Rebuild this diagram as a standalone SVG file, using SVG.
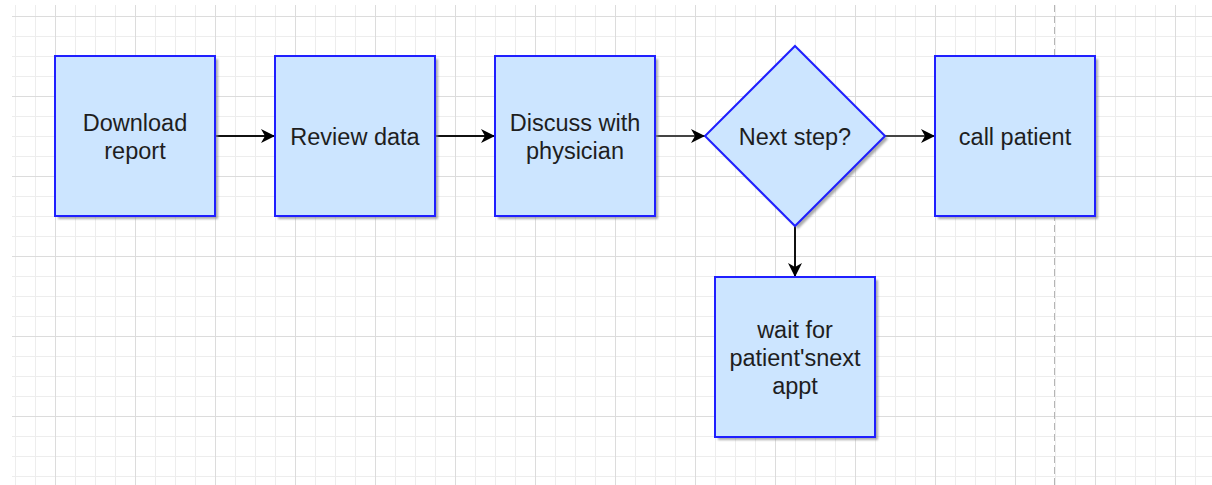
<svg xmlns="http://www.w3.org/2000/svg" width="1212" height="485" viewBox="0 0 1212 485">
<defs>
<pattern id="minor" x="15" y="16" width="20" height="20" patternUnits="userSpaceOnUse">
<path d="M0.5 0 V20 M0 0.5 H20" fill="none" stroke="#ededed" stroke-width="1"/>
</pattern>
<pattern id="major" x="55" y="16" width="80" height="80" patternUnits="userSpaceOnUse">
<path d="M0.5 0 V80 M0 0.5 H80" fill="none" stroke="#dcdcdc" stroke-width="1"/>
</pattern>
<marker id="arr" viewBox="0 0 14 14" refX="14" refY="7" markerWidth="14" markerHeight="14" markerUnits="userSpaceOnUse" orient="auto">
<path d="M0,0 L14,7 L0,14 L4,7 z" fill="#000"/>
</marker>
<filter id="sh" x="-10%" y="-10%" width="130%" height="130%">
<feGaussianBlur stdDeviation="0.8"/>
</filter>
</defs>
<style>
.box{fill:#cce5ff;stroke:#1f1fff;stroke-width:2}
.shadow{fill:#888888;opacity:0.7;filter:url(#sh)}
.t{font-family:"Liberation Sans",Arial,sans-serif;font-size:23.5px;fill:#1e1e1e;text-anchor:middle}
.c{fill:none;stroke:#111;stroke-width:2;marker-end:url(#arr)}
.c2{fill:none;stroke:#444;stroke-width:2;marker-end:url(#arr)}
</style>
<rect width="1212" height="485" fill="#ffffff"/>
<rect x="12" y="5" width="1200" height="480" fill="url(#minor)"/>
<rect x="12" y="5" width="1200" height="480" fill="url(#major)"/>
<line x1="1054.5" y1="5" x2="1054.5" y2="485" stroke="#b5b5b5" stroke-width="1" stroke-dasharray="7 4"/>

<g id="connectors">
<path class="c" d="M215 136 H275"/>
<path class="c" d="M435 136 H495"/>
<path class="c2" d="M645 136 H705"/>
<path class="c2" d="M875 136 H935"/>
<path class="c" d="M795 225 V277"/>
</g>

<g id="download">
<rect class="shadow" x="58" y="59" width="160" height="160"/>
<rect class="box" x="55" y="56" width="160" height="160"/>
<text class="t" x="135" y="131">Download</text>
<text class="t" x="135" y="159">report</text>
</g>
<g id="review">
<rect class="shadow" x="278" y="59" width="160" height="160"/>
<rect class="box" x="275" y="56" width="160" height="160"/>
<text class="t" x="355" y="145">Review data</text>
</g>
<g id="discuss">
<rect class="shadow" x="498" y="59" width="160" height="160"/>
<rect class="box" x="495" y="56" width="160" height="160"/>
<text class="t" x="575" y="131">Discuss with</text>
<text class="t" x="575" y="159">physician</text>
</g>
<g id="decision">
<path class="shadow" d="M798 49 L888 139 L798 229 L708 139 Z"/>
<path class="box" d="M795 46 L885 136 L795 226 L705 136 Z"/>
<text class="t" x="795" y="145">Next step?</text>
</g>
<g id="call">
<rect class="shadow" x="938" y="59" width="160" height="160"/>
<rect class="box" x="935" y="56" width="160" height="160"/>
<text class="t" x="1015" y="145">call patient</text>
</g>
<g id="wait">
<rect class="shadow" x="718" y="280" width="160" height="160"/>
<rect class="box" x="715" y="277" width="160" height="160"/>
<text class="t" x="795" y="338">wait for</text>
<text class="t" x="795" y="366">patient'snext</text>
<text class="t" x="795" y="394">appt</text>
</g>
</svg>
